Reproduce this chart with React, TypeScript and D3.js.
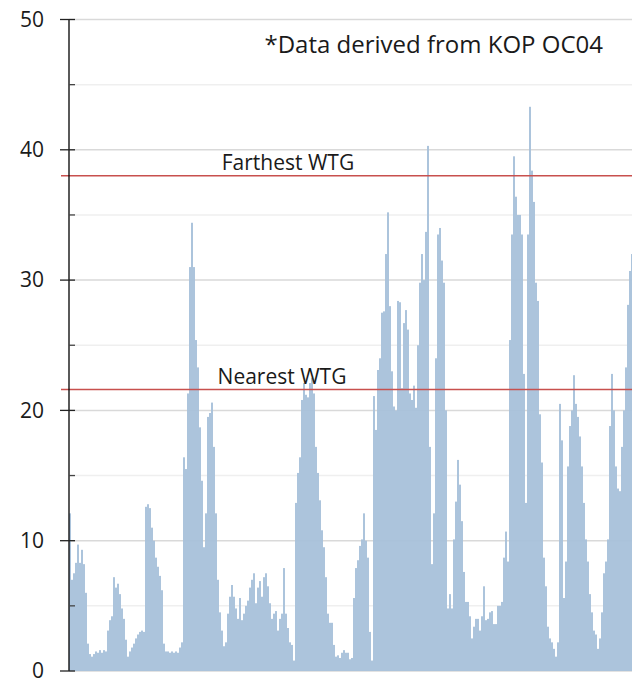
import React from "react";
import * as d3 from "d3";

const values: number[] = [
  12.1, 7.0, 7.5, 8.3, 9.7, 8.3, 9.3, 8.2, 6.0, 2.1,
  1.3, 1.1, 1.3, 1.5, 1.4, 1.6, 1.4, 1.6, 1.5, 3.1,
  3.9, 4.2, 7.2, 6.4, 6.7, 5.9, 4.8, 4.0, 2.4, 1.1,
  1.5, 1.8, 2.1, 2.5, 2.8, 3.0, 3.1, 3.0, 12.6, 12.8,
  12.5, 11.0, 10.0, 8.7, 8.0, 7.3, 6.2, 2.1, 1.5, 1.5,
  1.4, 1.5, 1.4, 1.5, 1.4, 1.8, 2.2, 16.4, 15.5, 21.3,
  31.0, 34.4, 31.0, 25.4, 23.3, 18.7, 14.6, 9.5, 12.1, 19.5,
  19.8, 20.6, 17.2, 12.1, 7.0, 4.5, 3.1, 1.9, 2.2, 4.4,
  5.7, 6.6, 5.7, 4.8, 4.0, 5.6, 3.9, 4.4, 5.0, 5.4,
  6.4, 7.0, 7.5, 5.2, 6.4, 6.9, 5.7, 7.2, 7.5, 6.5,
  5.2, 4.0, 4.4, 4.6, 3.1, 4.0, 4.4, 7.9, 4.4, 3.3,
  2.2, 2.0, 0.8, 12.9, 15.2, 16.4, 20.8, 22.1, 21.2, 21.0,
  22.1, 22.5, 21.3, 17.2, 15.2, 13.1, 10.8, 9.5, 7.2, 4.4,
  3.7, 3.7, 2.0, 1.1, 1.2, 1.0, 1.4, 1.6, 1.4, 1.4,
  0.9, 1.0, 5.6, 7.9, 8.5, 9.6, 10.1, 12.1, 10.0, 8.7,
  3.0, 0.8, 21.1, 18.5, 23.1, 24.0, 27.5, 27.6, 32.0, 35.2,
  28.0, 23.0, 20.3, 20.0, 28.4, 28.3, 21.7, 26.7, 27.7, 26.2,
  21.3, 20.8, 21.9, 20.2, 25.0, 29.8, 32.0, 30.0, 33.7, 40.3,
  17.2, 8.2, 12.1, 24.0, 33.5, 34.0, 31.5, 29.8, 20.0, 4.8,
  5.9, 4.8, 10.1, 13.0, 16.2, 14.3, 11.5, 7.6, 5.3, 5.3,
  4.2, 2.5, 3.4, 4.0, 4.0, 3.1, 4.2, 6.5, 3.9, 4.0,
  4.5, 4.6, 3.6, 3.6, 5.0, 5.0, 5.3, 8.7, 10.7, 8.4,
  25.4, 33.5, 39.5, 36.4, 35.0, 35.0, 33.5, 22.8, 12.9, 33.5,
  43.3, 38.4, 36.0, 29.8, 28.4, 19.7, 16.0, 8.7, 6.5, 3.4,
  2.5, 2.2, 1.7, 1.1, 2.2, 20.5, 17.7, 5.6, 8.4, 15.7,
  18.8, 20.0, 22.7, 20.5, 19.5, 18.0, 15.7, 12.9, 10.1, 8.4,
  5.9, 4.5, 3.1, 2.8, 1.7, 2.5, 4.5, 7.5, 8.4, 10.1,
  18.8, 22.8, 20.0, 15.7, 14.0, 13.8, 17.2, 20.0, 23.3, 28.1,
  30.7, 32.0,
];

const categories: string[] = values.map((_, i) => String(i + 1));

const majorTicks: number[] = [0, 10, 20, 30, 40, 50];
const minorTicks: number[] = [5, 15, 25, 35, 45];

const refLines: { label: string; value: number }[] = [
  { label: "Farthest WTG", value: 38.0 },
  { label: "Nearest WTG", value: 21.6 },
];

const note = "*Data derived from KOP OC04";

export default function App() {
  const width = 632;
  const height = 678;
  const left = 69;
  const right = 633;
  const top = 19.5;
  const bottom = 671;

  const x = d3.scaleBand<string>().domain(categories).range([left, right]).padding(0);
  const y = d3.scaleLinear().domain([0, 50]).range([bottom, top]);

  const font = "'Open Sans', 'Noto Sans', sans-serif";

  return (
    <svg
      width={width}
      height={height}
      style={{ position: "absolute", left: 0, top: 0, background: "#fff" }}
      fontFamily={font}
    >
      {minorTicks.map((t) => (
        <line key={"mg" + t} x1={left} x2={width} y1={y(t)} y2={y(t)} stroke="#efefef" strokeWidth={1.5} />
      ))}
      {majorTicks.map((t) => (
        <line key={"Mg" + t} x1={left} x2={width} y1={y(t)} y2={y(t)} stroke="#d9d9d9" strokeWidth={1.5} />
      ))}
      <g>
        {values.map((v, i) => (
          <rect
            key={i}
            x={x(categories[i])!}
            y={y(v)}
            width={x.bandwidth()}
            height={y(0) - y(v)}
            fill="#a8c1da"
            fillOpacity={0.95}
          />
        ))}
      </g>
      {refLines.map((r) => (
        <line key={r.label} x1={61} x2={width} y1={y(r.value)} y2={y(r.value)} stroke="#c8504e" strokeWidth={1.5} />
      ))}
      <text x={288} y={y(refLines[0].value) - 6} textAnchor="middle" fontSize={21} fill="#1a1a1a">
        {refLines[0].label}
      </text>
      <text x={282} y={y(refLines[1].value) - 6} textAnchor="middle" fontSize={21} fill="#1a1a1a">
        {refLines[1].label}
      </text>
      <line x1={left} x2={left} y1={top} y2={bottom} stroke="#000" strokeWidth={1.3} />
      {majorTicks.map((t) => (
        <g key={"t" + t}>
          <line x1={60} x2={75} y1={y(t)} y2={y(t)} stroke="#222" strokeWidth={1.3} />
          <text x={44} y={y(t)} dy="0.35em" textAnchor="end" fontSize={21} fill="#1a1a1a">
            {t}
          </text>
        </g>
      ))}
      {minorTicks.map((t) => (
        <line key={"mt" + t} x1={left} x2={75} y1={y(t)} y2={y(t)} stroke="#444" strokeWidth={1.3} />
      ))}
      <text x={603} y={53} textAnchor="end" fontSize={24} fill="#1a1a1a">
        {note}
      </text>
    </svg>
  );
}
